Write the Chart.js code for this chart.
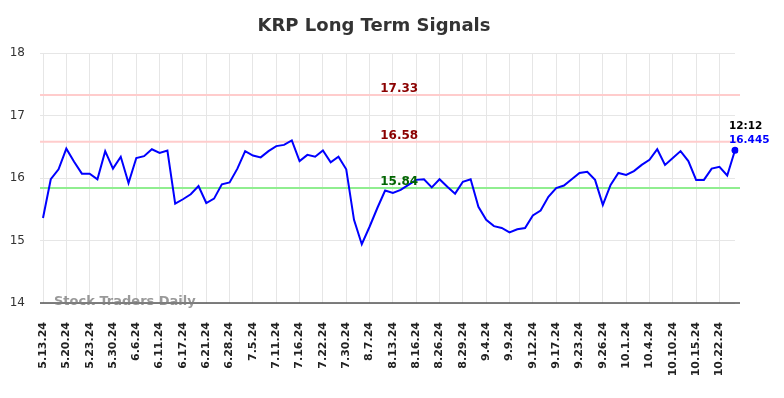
<!DOCTYPE html>
<html>
<head>
<meta charset="utf-8">
<script src="https://cdn.jsdelivr.net/npm/chart.js@4.4.1/dist/chart.umd.min.js"></script>
<style>
  html, body { margin: 0; padding: 0; background: #fff; }
  #wrap { width: 784px; height: 398px; }
</style>
</head>
<body>
<div id="wrap"><canvas id="chart" width="784" height="398"></canvas></div>
<script>
const dates = [
  "5.13.24", "5.15.24", "5.17.24", "5.20.24", "5.21.24", "5.22.24",
  "5.23.24", "5.24.24", "5.28.24", "5.30.24", "5.31.24", "6.4.24",
  "6.6.24", "6.7.24", "6.10.24", "6.11.24", "6.12.24", "6.14.24",
  "6.17.24", "6.18.24", "6.20.24", "6.21.24", "6.25.24", "6.27.24",
  "6.28.24", "7.1.24", "7.3.24", "7.5.24", "7.9.24", "7.10.24",
  "7.11.24", "7.12.24", "7.15.24", "7.16.24", "7.18.24", "7.19.24",
  "7.22.24", "7.24.24", "7.26.24", "7.30.24", "8.1.24", "8.5.24",
  "8.7.24", "8.9.24", "8.12.24", "8.13.24", "8.14.24", "8.15.24",
  "8.16.24", "8.20.24", "8.22.24", "8.26.24", "8.27.24", "8.28.24",
  "8.29.24", "8.30.24", "9.3.24", "9.4.24", "9.5.24", "9.6.24",
  "9.9.24", "9.10.24", "9.11.24", "9.12.24", "9.13.24", "9.16.24",
  "9.17.24", "9.19.24", "9.20.24", "9.23.24", "9.24.24", "9.25.24",
  "9.26.24", "9.27.24", "9.30.24", "10.1.24", "10.2.24", "10.3.24",
  "10.4.24", "10.7.24", "10.8.24", "10.10.24", "10.11.24", "10.14.24",
  "10.15.24", "10.17.24", "10.18.24", "10.22.24", "10.23.24", "10.24.24"
];

const prices = [
  15.36, 15.98, 16.14, 16.47, 16.26, 16.07, 16.07, 15.98, 16.43, 16.15,
  16.34, 15.92, 16.32, 16.35, 16.46, 16.40, 16.44, 15.59, 15.66, 15.74,
  15.87, 15.60, 15.67, 15.90, 15.93, 16.15, 16.43, 16.36, 16.33, 16.43,
  16.51, 16.53, 16.60, 16.27, 16.37, 16.34, 16.44, 16.25, 16.34, 16.14,
  15.33, 14.94, 15.22, 15.52, 15.80, 15.76, 15.81, 15.89, 15.97, 15.98,
  15.85, 15.98, 15.86, 15.75, 15.94, 15.98, 15.54, 15.33, 15.23, 15.20,
  15.13, 15.18, 15.20, 15.40, 15.48, 15.70, 15.84, 15.88, 15.98, 16.08,
  16.10, 15.97, 15.57, 15.89, 16.08, 16.05, 16.11, 16.21, 16.29, 16.46,
  16.21, 16.32, 16.43, 16.27, 15.97, 15.97, 16.15, 16.18, 16.04, 16.445
];

const tickLabels = [
  "5.13.24", "5.20.24", "5.23.24", "5.30.24", "6.6.24", "6.11.24",
  "6.17.24", "6.21.24", "6.28.24", "7.5.24", "7.11.24", "7.16.24",
  "7.22.24", "7.30.24", "8.7.24", "8.13.24", "8.16.24", "8.26.24",
  "8.29.24", "9.4.24", "9.9.24", "9.12.24", "9.17.24", "9.23.24",
  "9.26.24", "10.1.24", "10.4.24", "10.10.24", "10.15.24", "10.22.24"
];

const yTicks = [14, 15, 16, 17, 18];

const signalValues = [17.33, 16.58, 15.84];
const signalLineColors = ["#ffcccc", "#ffcccc", "#90ee90"];
const signalTextColors = ["#8b0000", "#8b0000", "#006400"];

const lastTime = "12:12";

const FONT = "'DejaVu Sans', sans-serif";
const shown = new Set(tickLabels);

// draws title, signal lines, axis line, watermark and the last-price note
const extras = {
  id: "extras",
  beforeDatasetsDraw(chart) {
    const { ctx, chartArea: a, scales: { y } } = chart;
    ctx.save();
    signalValues.forEach((v, i) => {
      const py = y.getPixelForValue(v);
      ctx.strokeStyle = signalLineColors[i];
      ctx.lineWidth = 2;
      ctx.beginPath();
      ctx.moveTo(a.left - 3, py);
      ctx.lineTo(a.right + 5, py);
      ctx.stroke();
    });
    ctx.strokeStyle = "#555";
    ctx.lineWidth = 1.5;
    ctx.beginPath();
    ctx.moveTo(a.left - 3, a.bottom);
    ctx.lineTo(a.right + 5, a.bottom);
    ctx.stroke();
    ctx.restore();
  },
  afterDraw(chart) {
    const { ctx, chartArea: a, scales: { x, y } } = chart;
    ctx.save();
    ctx.fillStyle = "#333";
    ctx.font = "bold 18px " + FONT;
    ctx.textAlign = "center";
    ctx.textBaseline = "middle";
    ctx.fillText("KRP Long Term Signals", 374, 26);

    ctx.font = "bold 12px " + FONT;
    const lx = x.getPixelForValue(46) - 1.5;
    signalValues.forEach((v, i) => {
      ctx.fillStyle = signalTextColors[i];
      ctx.textBaseline = "alphabetic";
      ctx.fillText(v.toFixed(2), lx, y.getPixelForValue(v) - 3);
    });

    ctx.font = "bold 13px " + FONT;
    ctx.fillStyle = "rgba(128,128,128,0.8)";
    ctx.textAlign = "left";
    ctx.textBaseline = "middle";
    ctx.fillText("Stock Traders Daily", a.left + 11, a.bottom - 1);

    const li = prices.length - 1;
    const px = x.getPixelForValue(li);
    const py = y.getPixelForValue(prices[li]);
    ctx.font = "bold 10.5px " + FONT;
    ctx.fillStyle = "#000";
    ctx.fillText(lastTime, px - 6, py - 24);
    ctx.fillStyle = "#0000ff";
    ctx.fillText(String(prices[li]), px - 6, py - 9.5);
    ctx.restore();
  }
};

new Chart(document.getElementById("chart"), {
  type: "line",
  data: {
    labels: dates,
    datasets: [{
      data: prices,
      borderColor: "#0000ff",
      backgroundColor: "#0000ff",
      borderWidth: 2,
      tension: 0,
      pointRadius: prices.map((_, i) => (i === prices.length - 1 ? 3.5 : 0)),
      pointBorderWidth: 0,
      pointHoverRadius: 0
    }]
  },
  options: {
    responsive: false,
    animation: false,
    events: [],
    layout: { padding: { top: 53, right: 49, left: 0, bottom: 0 } },
    plugins: {
      legend: { display: false },
      tooltip: { enabled: false },
      title: { display: false }
    },
    scales: {
      x: {
        type: "category",
        offset: false,
        border: { display: false },
        grid: {
          color: (c) => (c.tick && shown.has(dates[c.index]) ? "#e6e6e6" : "rgba(0,0,0,0)"),
          lineWidth: 1,
          drawTicks: false
        },
        ticks: {
          autoSkip: false,
          maxRotation: 90,
          minRotation: 90,
          padding: 19,
          color: "#222",
          font: { family: FONT, size: 11, weight: "bold" },
          callback: (v, i) => (shown.has(dates[i]) ? dates[i] : "")
        },
        afterFit: (s) => { s.height = 95; }
      },
      y: {
        min: 14,
        max: 18,
        border: { display: false },
        grid: {
          color: "#e6e6e6",
          lineWidth: 1,
          tickLength: 3
        },
        ticks: {
          stepSize: 1,
          padding: 15,
          color: "#333",
          font: { family: FONT, size: 12 },
          callback: (v) => (yTicks.includes(v) ? String(v) : "")
        },
        afterFit: (s) => { s.width = 43; }
      }
    }
  },
  plugins: [extras]
});
</script>
</body>
</html>
